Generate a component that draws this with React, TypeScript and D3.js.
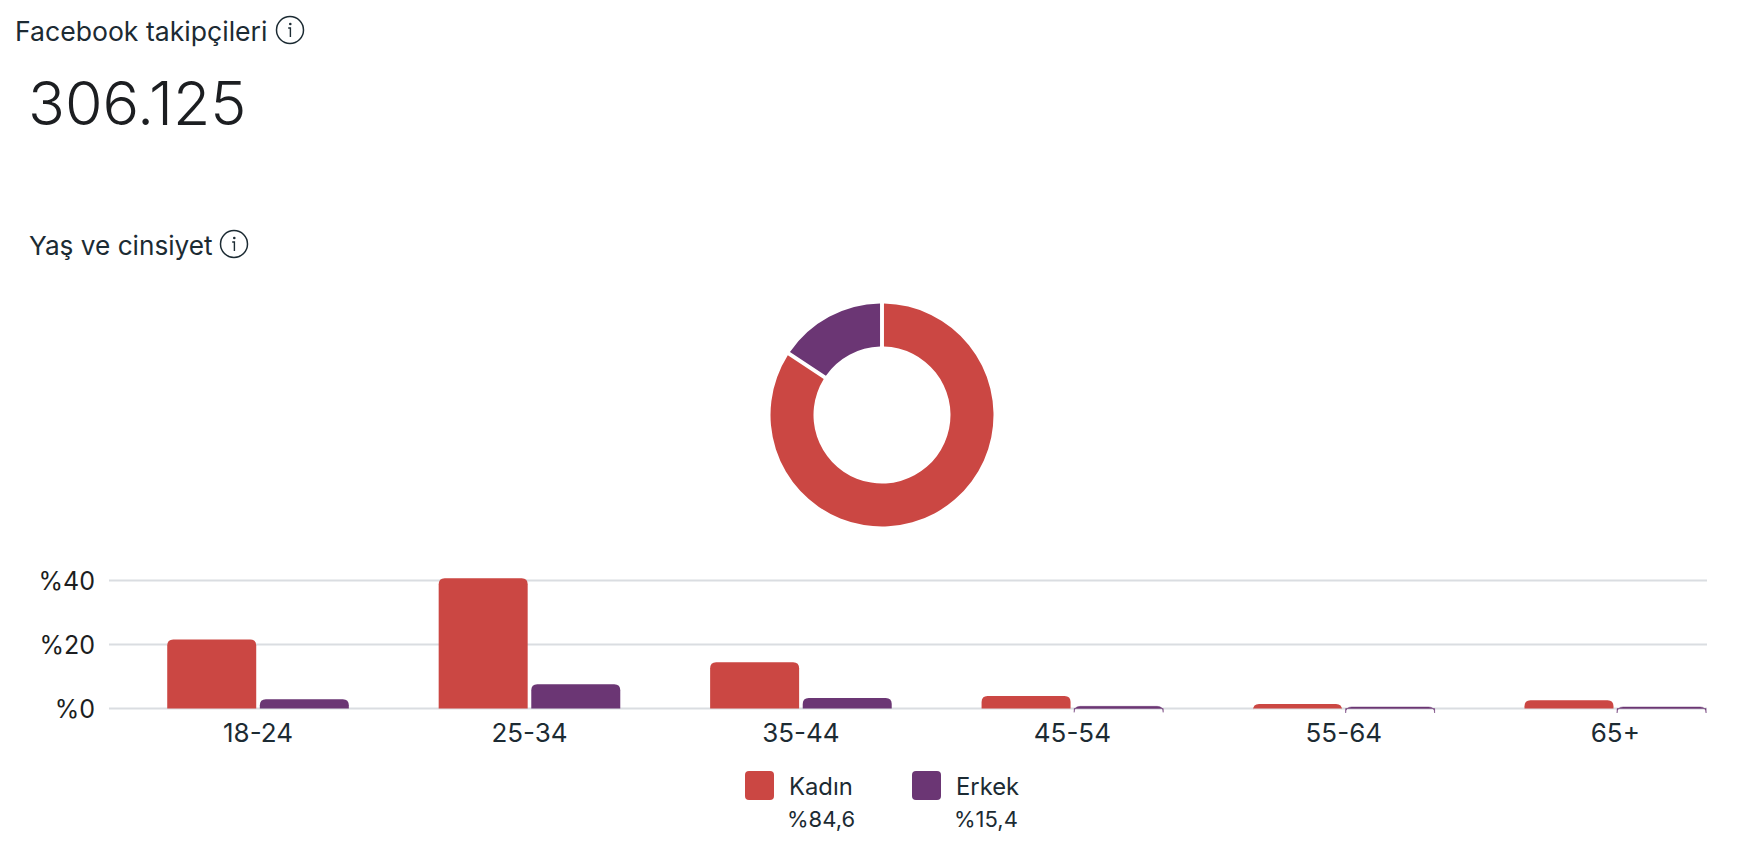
import React from 'react'
import * as d3 from "d3";

const ageGroups = ["18-24", "25-34", "35-44", "45-54", "55-64", "65+"];
const women = [21.6, 40.7, 14.5, 3.9, 1.4, 2.6];
const men = [2.9, 7.6, 3.3, 0.7, 0.5, 0.5];
const yTicks = [0, 20, 40];
const genders = ["Kadın", "Erkek"];
const genderShares = [84.6, 15.4];
const genderLabels = ["%84,6", "%15,4"];
const colors = ["#cb4743", "#6b3674"];
const followers = "306.125";

const width = 1752;
const height = 866;
const font = "Inter, 'Noto Sans', sans-serif";
const ink = "#1c2b33";

const x = d3.scaleBand<string>().domain(ageGroups).range([122.3, 1751]);
const y = d3.scaleLinear([0, 40], [708.6, 580.6]);
const barWidth = 89;
const barGap = 3.6;

// rounded top stays the same radius on tiny bars, so the corners hang below the axis
function barPath(left: number, value: number) {
    const r = 6;
    const top = y(value);
    const base = y(0);
    const p = d3.path();
    p.moveTo(left, base);
    p.lineTo(left, top + r);
    p.quadraticCurveTo(left, top, left + r, top);
    p.lineTo(left + barWidth - r, top);
    p.quadraticCurveTo(left + barWidth, top, left + barWidth, top + r);
    p.lineTo(left + barWidth, base);
    p.closePath();
    return p.toString();
}

const pie = d3.pie<number>().sort(null).padAngle(0.03);
const arc = d3.arc<d3.PieArcDatum<number>>().innerRadius(68.5).outerRadius(111.5);

function InfoIcon({ cx, cy }: { cx: number, cy: number }) {
    return (
        <g transform={`translate(${cx},${cy})`} fill="none" stroke={ink} strokeWidth={1.5}>
            <circle r={13.5} />
            <path d="M-1.8 -2H0.4V7" strokeWidth={1.4} />
            <circle cx={0.3} cy={-6} r={1.3} fill={ink} stroke="none" />
        </g>
    );
}

export default function App() {
    const center = x.bandwidth() / 2;
    return (
        <svg width={width} height={height} style={{ position: "absolute", left: 0, top: 0, fontFamily: font }}>
            <rect width={width} height={height} fill="#fff" />

            <text x={15} y={41} fontSize={26.6} fill={ink}>Facebook takipçileri</text>
            <InfoIcon cx={290} cy={30} />
            <text x={28} y={125} fontSize={60.9} fontWeight={300} fill="#1c1e21">{followers}</text>
            <text x={29} y={255} fontSize={26.2} fill={ink}>Yaş ve cinsiyet</text>
            <InfoIcon cx={234} cy={244} />

            <g transform="translate(882,415)">
                {pie(genderShares).map((d, i) => (
                    <path key={i} d={arc(d)!} fill={colors[i]} />
                ))}
            </g>

            {yTicks.map(t => (
                <g key={t}>
                    <line x1={109} x2={1707} y1={y(t)} y2={y(t)} stroke="#dadde1" strokeWidth={2} />
                    <text x={95} y={y(t) + 9} textAnchor="end" fontSize={25} fill="#1c1e21">%{t}</text>
                </g>
            ))}

            {ageGroups.map((g, i) => {
                const mid = x(g)! + center;
                return (
                    <g key={g}>
                        <path d={barPath(mid - barGap / 2 - barWidth, women[i])} fill={colors[0]} />
                        <path d={barPath(mid + barGap / 2, men[i])} fill={colors[1]} stroke={men[i] < 1 ? colors[1] : "none"} strokeOpacity={0.6} strokeWidth={0.8} />
                        <text x={mid} y={742} textAnchor="middle" fontSize={26} fill={ink}>{g}</text>
                    </g>
                );
            })}

            {genders.map((g, i) => {
                const left = 745 + i * 167;
                return (
                    <g key={g}>
                        <rect x={left} y={771} width={29} height={29} rx={4} fill={colors[i]} />
                        <text x={left + 44} y={795} fontSize={23.8} fill={ink}>{g}</text>
                        <text x={left + 42} y={827} fontSize={22} fill={ink}>{genderLabels[i]}</text>
                    </g>
                );
            })}
        </svg>
    );
}
